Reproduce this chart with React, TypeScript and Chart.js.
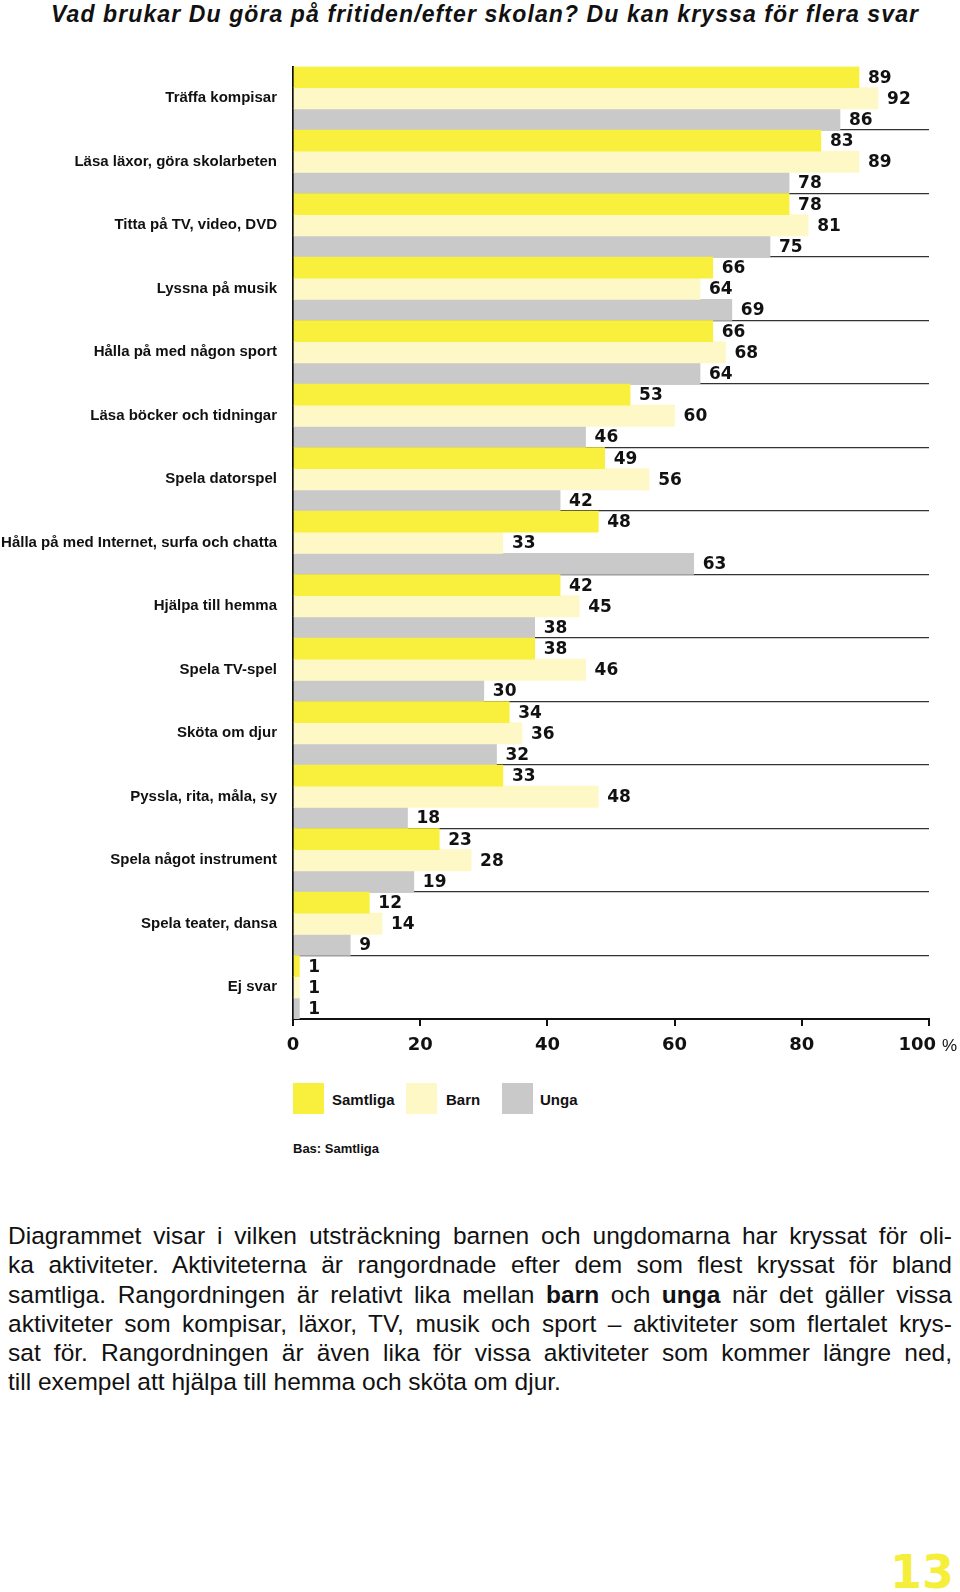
import React, { useEffect, useRef } from "react";
import { Chart, registerables } from "chart.js";

Chart.register(...registerables);

const categories = [
  "Träffa kompisar",
  "Läsa läxor, göra skolarbeten",
  "Titta på TV, video, DVD",
  "Lyssna på musik",
  "Hålla på med någon sport",
  "Läsa böcker och tidningar",
  "Spela datorspel",
  "Hålla på med Internet, surfa och chatta",
  "Hjälpa till hemma",
  "Spela TV-spel",
  "Sköta om djur",
  "Pyssla, rita, måla, sy",
  "Spela något instrument",
  "Spela teater, dansa",
  "Ej svar",
];

const samtliga = [89, 83, 78, 66, 66, 53, 49, 48, 42, 38, 34, 33, 23, 12, 1];
const barn = [92, 89, 81, 64, 68, 60, 56, 33, 45, 46, 36, 48, 28, 14, 1];
const unga = [86, 78, 75, 69, 64, 46, 42, 63, 38, 30, 32, 18, 19, 9, 1];

const seriesNames = ["Samtliga", "Barn", "Unga"];
const seriesColors = ["#f8f03c", "#fdf8c6", "#c9c9c9"];
const xTicks = [0, 20, 40, 60, 80, 100];
const xMax = 100;

const titleText =
  "Vad brukar Du göra på fritiden/efter skolan? Du kan kryssa för flera svar";

const LABEL_FONT = '"Liberation Sans", Arial, sans-serif';
const NUM_FONT = '"DejaVu Sans", sans-serif';

const valueLabels = {
  id: "valueLabels",
  afterDatasetsDraw(chart: any) {
    const ctx = chart.ctx;
    ctx.save();
    ctx.font = `bold 17px ${NUM_FONT}`;
    ctx.fillStyle = "#111";
    ctx.textAlign = "left";
    ctx.textBaseline = "middle";
    chart.data.datasets.forEach((ds: any, i: number) => {
      const meta = chart.getDatasetMeta(i);
      meta.data.forEach((bar: any, j: number) => {
        ctx.fillText(String(ds.data[j]), bar.x + 9, bar.y + 1);
      });
    });
    ctx.restore();
  },
};

// The last tick ("100 %") is drawn as a unit, centred roughly on its tick mark.
const lastTickLabel = {
  id: "lastTickLabel",
  afterDraw(chart: any) {
    const xs = chart.scales.x;
    const ctx = chart.ctx;
    const px = xs.getPixelForValue(xMax);
    const y = xs.top + 26.8;
    ctx.save();
    ctx.fillStyle = "#111";
    ctx.textBaseline = "middle";
    ctx.font = `bold 18px ${NUM_FONT}`;
    ctx.textAlign = "right";
    ctx.fillText(String(xMax), px + 7, y);
    ctx.font = `17px ${LABEL_FONT}`;
    ctx.textAlign = "left";
    ctx.fillText("%", px + 13, y + 1);
    ctx.restore();
  },
};

function BarChart() {
  const ref = useRef<HTMLCanvasElement | null>(null);
  useEffect(() => {
    if (!ref.current) return;
    const chart = new Chart(ref.current, {
      type: "bar",
      data: {
        labels: categories,
        datasets: [samtliga, barn, unga].map((d, i) => ({
          label: seriesNames[i],
          data: d,
          backgroundColor: seriesColors[i],
          borderWidth: 0,
          categoryPercentage: 1,
          barPercentage: 1,
        })),
      },
      options: {
        indexAxis: "y",
        responsive: false,
        animation: false,
        devicePixelRatio: 1,
        layout: { padding: { top: 66.5, right: 31, left: 0, bottom: 0 } },
        plugins: {
          legend: { display: false },
          tooltip: { enabled: false },
          title: { display: false },
        },
        scales: {
          x: {
            type: "linear",
            min: 0,
            max: xMax,
            afterBuildTicks: (s: any) => {
              s.ticks = xTicks.map((v) => ({ value: v }));
            },
            afterFit: (s: any) => {
              s.height = 51;
              s.paddingLeft = 0;
              s.paddingRight = 0;
            },
            grid: {
              drawOnChartArea: false,
              drawTicks: true,
              tickLength: 7,
              color: "#111",
              lineWidth: 2,
            },
            border: { display: true, color: "#111", width: 2 },
            ticks: {
              padding: 9,
              color: "#111",
              font: { family: NUM_FONT, weight: "bold", size: 18 },
              maxRotation: 0,
              autoSkip: false,
              callback: (v: any) => (v === xMax ? "" : String(v)),
            },
          },
          y: {
            type: "category",
            afterFit: (s: any) => {
              s.width = 293;
            },
            grid: {
              offset: true,
              drawTicks: false,
              color: (c: any) => (c.index === 0 ? "rgba(0,0,0,0)" : "#333"),
              lineWidth: 1.3,
            },
            border: { display: true, color: "#111", width: 2 },
            ticks: {
              padding: 16,
              color: "#111",
              autoSkip: false,
              font: { family: LABEL_FONT, weight: "bold", size: 15 },
            },
          },
        },
      },
      plugins: [valueLabels, lastTickLabel],
    } as any);
    return () => chart.destroy();
  }, []);
  return (
    <canvas
      ref={ref}
      width={960}
      height={1070}
      style={{ display: "block", width: 960, height: 1070 }}
    />
  );
}

const abs = (l: number, t: number, extra: any = {}) => ({
  position: "absolute" as const,
  left: l,
  top: t,
  margin: 0,
  whiteSpace: "nowrap" as const,
  ...extra,
});

const paraLines: React.ReactNode[] = [
  "Diagrammet visar i vilken utsträckning barnen och ungdomarna har kryssat för oli-",
  "ka aktiviteter. Aktiviteterna är rangordnade efter dem som flest kryssat för bland",
  <>
    samtliga. Rangordningen är relativt lika mellan <b>barn</b> och <b>unga</b> när det gäller vissa
  </>,
  "aktiviteter som kompisar, läxor, TV, musik och sport – aktiviteter som flertalet krys-",
  "sat för. Rangordningen är även lika för vissa aktiviteter som kommer längre ned,",
  "till exempel att hjälpa till hemma och sköta om djur.",
];

export default function App() {
  return (
    <div
      style={{
        position: "absolute",
        left: 0,
        top: 0,
        width: 960,
        height: 1592,
        background: "#fff",
        overflow: "hidden",
        fontFamily: LABEL_FONT,
        color: "#111",
      }}
    >
      <div
        style={abs(51, 3, {
          fontSize: 23,
          lineHeight: "23px",
          fontWeight: "bold",
          fontStyle: "italic",
          letterSpacing: "1.1px",
        })}
      >
        {titleText}
      </div>
      <div style={abs(0, 0)}>
        <BarChart />
      </div>
      {seriesNames.map((n, i) => {
        const sq = [293, 406, 502][i];
        const tx = [332, 446, 540][i];
        return (
          <React.Fragment key={n}>
            <div
              style={abs(sq, 1083, {
                width: 31,
                height: 31,
                background: seriesColors[i],
              })}
            />
            <div
              style={abs(tx, 1092, {
                fontSize: 15,
                lineHeight: "15px",
                fontWeight: "bold",
              })}
            >
              {n}
            </div>
          </React.Fragment>
        );
      })}
      <div
        style={abs(293, 1141.5, {
          fontSize: 13,
          lineHeight: "13px",
          fontWeight: "bold",
        })}
      >
        Bas: Samtliga
      </div>
      <div style={abs(8, 1221, { width: 944, whiteSpace: "normal" })}>
        {paraLines.map((line, i) => (
          <div
            key={i}
            style={{
              fontSize: 24.5,
              lineHeight: "29.3px",
              textAlign: "justify",
              textAlignLast: i === paraLines.length - 1 ? "left" : "justify",
              whiteSpace: "nowrap",
            }}
          >
            {line}
          </div>
        ))}
      </div>
      <div
        style={{
          position: "absolute",
          right: 6,
          top: 1549,
          fontFamily: NUM_FONT,
          fontWeight: "bold",
          fontSize: 46,
          lineHeight: "46px",
          color: "#f5ef3b",
        }}
      >
        13
      </div>
    </div>
  );
}
